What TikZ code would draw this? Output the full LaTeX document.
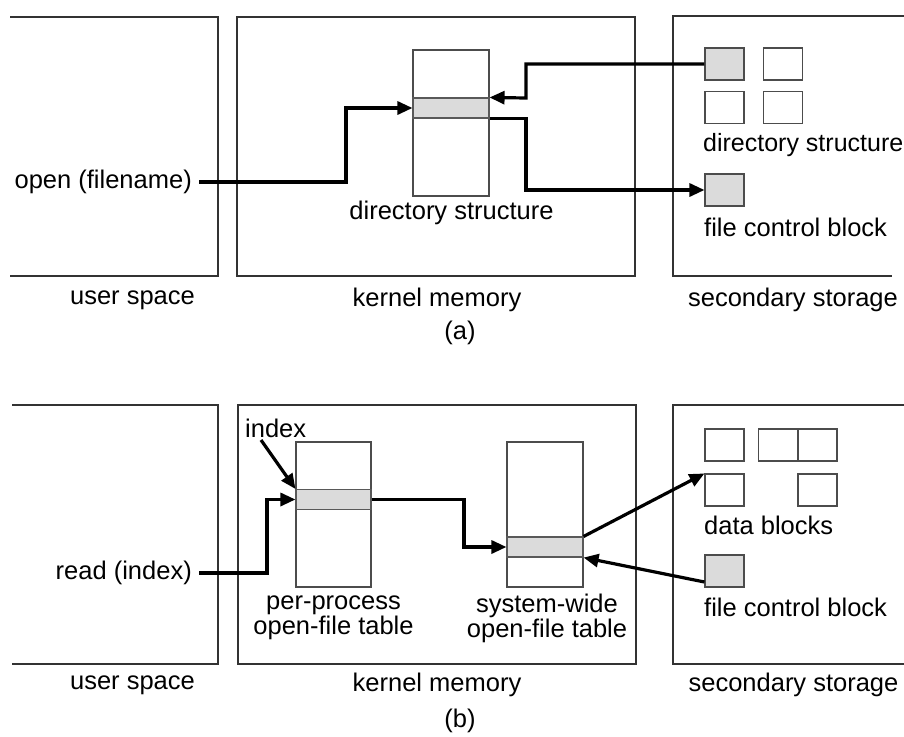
\documentclass[tikz,border=0pt]{standalone}
\usepackage{fontspec}
\setmainfont{Liberation Sans}
\usetikzlibrary{arrows.meta}
\begin{document}
\begin{tikzpicture}[x=1pt,y=-1pt,
  every node/.style={font=\fontsize{25.5}{25}\selectfont, inner sep=0pt},
  frame/.style={draw=black!80, line width=1.1pt},
  tbl/.style={draw=black!70, line width=1.1pt, fill=white, rectangle},
  band/.style={draw=black!65, line width=1.1pt, fill=black!14, rectangle, minimum height=20pt},
  blk/.style={draw=black!70, line width=1.1pt, fill=white, rectangle, minimum width=39pt, minimum height=32pt},
  gblk/.style={blk, fill=black!14},
  arr/.style={draw=black, line width=3.2pt, -{Triangle[length=15pt,width=13pt]}},
  lbl/.style={align=center}]
\useasboundingbox (0,0) rectangle (904,736);
\fill[white] (0,0) rectangle (904,736);

% ---------- (a) ----------
\draw[frame] (10,17) -- (218,17) -- (218,276) -- (10,276);
\draw[frame] (237,17) rectangle (635,276);
\draw[frame] (904,16) -- (673,16) -- (673,276) -- (892,276);

\node[tbl, minimum width=76pt, minimum height=146pt] (dtab) at (451,123) {};
\node[band, minimum width=76pt] (dband) at (451,108) {};
\node (dtablbl) at (451.5,213) {directory structure};

\node[anchor=east] (openlbl) at (192,182) {open (filename)};

\node[gblk] (ds1) at (724.5,64) {};
\node[blk] (ds2) at (783,64) {};
\node[blk] (ds3) at (724.5,107.5) {};
\node[blk] (ds4) at (783,107.5) {};
\node[anchor=west, font=\fontsize{25}{25}\selectfont] (dslbl) at (703,145) {directory structure};
\node[gblk] (fcb1) at (724.5,190) {};
\node[anchor=west] (fcb1lbl) at (704,227) {file control block};

\draw[arr] ([xshift=7pt]openlbl.east) -| (346,108) -- (dband.west);
\draw[arr] (ds1.west) -| (526,98) -- (dband.north east);
\draw[arr] (dband.south east) -| (526,190) -- (fcb1.west);

\node (usa) at (132.5,300) {user space};
\node (kma) at (437,300) {kernel memory};
\node (ssa) at (793,300) {secondary storage};
\node (capa) at (460,333) {(a)};

% ---------- (b) ----------
\draw[frame] (12,405) -- (218,405) -- (218,664) -- (12,664);
\draw[frame] (238,405) rectangle (636,664);
\draw[frame] (904,405) -- (673,405) -- (673,664) -- (904,664);

\node[tbl, minimum width=75pt, minimum height=145pt] (ptab) at (333.5,514.5) {};
\node[band, minimum width=75pt] (pband) at (333.5,499.5) {};
\node[lbl] (ptablbl) at (333.5,618) {per-process\\open-file table};

\node[tbl, minimum width=76pt, minimum height=145pt] (stab) at (545,514.5) {};
\node[band, minimum width=76pt] (sband) at (545,547) {};
\node[lbl] (stablbl) at (547,618) {system-wide\\open-file table};

\node[anchor=west] (idxlbl) at (245,428) {index};
\coordinate (idxtail) at (261,440);
\node[anchor=east] (readlbl) at (192,573) {read (index)};

\node[blk] (db1) at (724.5,445) {};
\node[blk] (db2) at (778,445) {};
\node[blk] (db3) at (817.5,445) {};
\node[blk] (db4) at (724.5,490) {};
\node[blk] (db5) at (817.5,490) {};
\node[anchor=west] (dblbl) at (704,525) {data blocks};
\node[gblk] (fcb2) at (724.5,571) {};
\node[anchor=west] (fcb2lbl) at (704,607) {file control block};

\draw[arr] (idxtail) -- (pband.north west);
\draw[arr] ([xshift=7pt]readlbl.east) -| (267,499.5) -- (pband.west);
\draw[arr] (pband.east) -| (464,547) -- (sband.west);
\draw[arr] (sband.north east) -- (db4.north west);
\draw[arr] ([yshift=-11pt]fcb2.west) -- (sband.south east);

\node (usb) at (132.5,685) {user space};
\node (kmb) at (437,685) {kernel memory};
\node (ssb) at (793.5,685) {secondary storage};
\node (capb) at (460,721) {(b)};
\end{tikzpicture}
\end{document}
